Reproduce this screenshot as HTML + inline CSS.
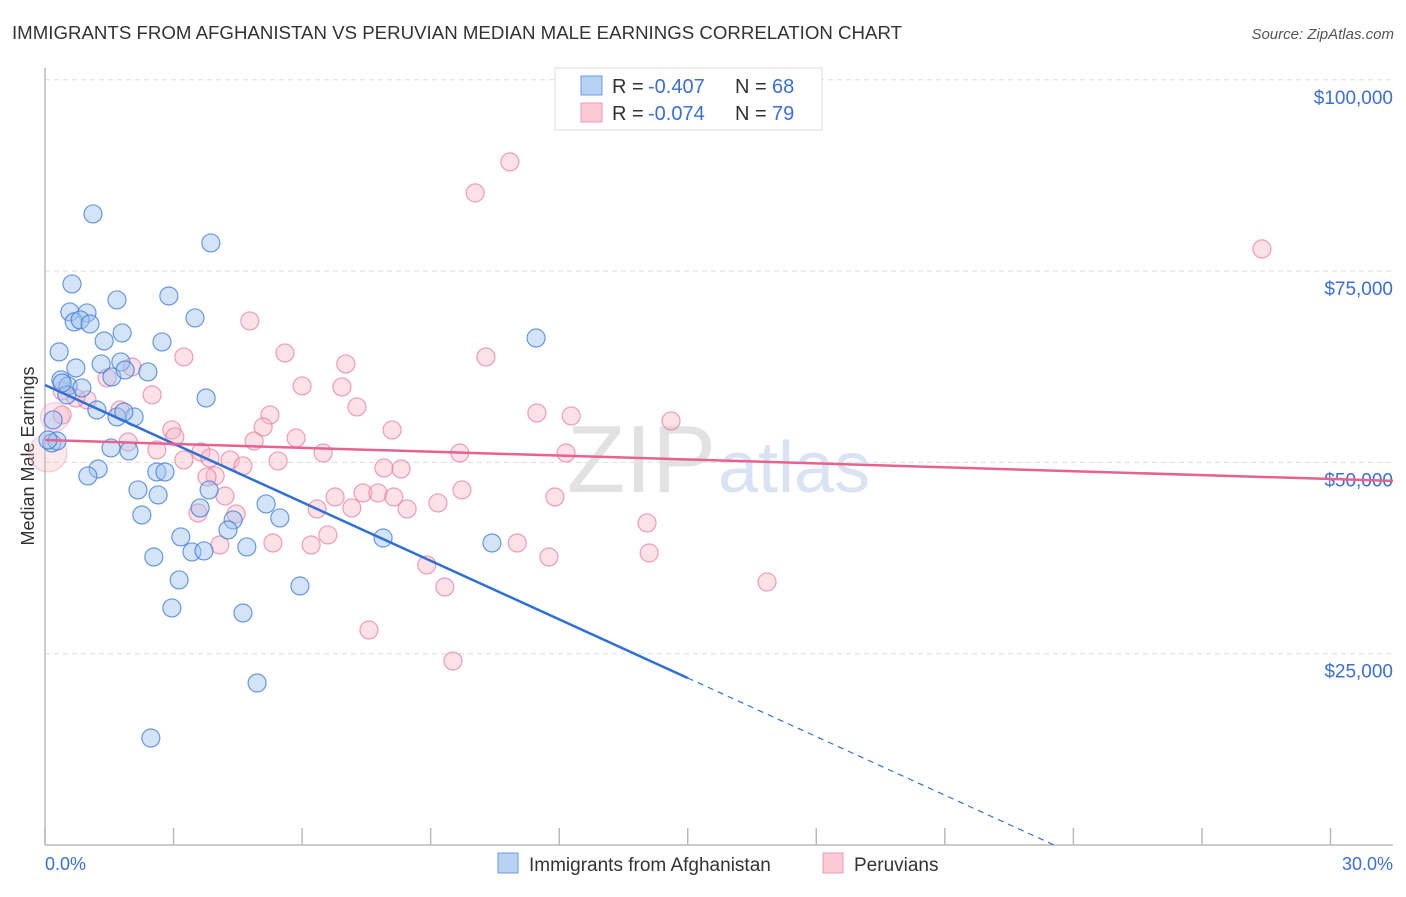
<!DOCTYPE html>
<html><head><meta charset="utf-8"><style>
body{margin:0;background:#fff;font-family:"Liberation Sans",sans-serif;}
svg text{font-family:"Liberation Sans",sans-serif;}
</style></head><body>
<svg id="chart" width="1406" height="892" viewBox="0 0 1406 892" xmlns="http://www.w3.org/2000/svg">
<text x="12" y="39" font-size="18" fill="#333" textLength="890" lengthAdjust="spacingAndGlyphs">IMMIGRANTS FROM AFGHANISTAN VS PERUVIAN MEDIAN MALE EARNINGS CORRELATION CHART</text>
<text x="1394" y="39" font-size="15" fill="#555" font-style="italic" text-anchor="end">Source: ZipAtlas.com</text>
<text x="716" y="492" font-size="96" fill="#e2e2e2" text-anchor="end" font-family="Liberation Serif">ZIP</text>
<text x="718" y="492" font-size="72" fill="#d9e3f3">atlas</text>
<g id="grid"></g>
<line x1="45" y1="68" x2="45" y2="845" stroke="#bbb" stroke-width="1.5"/>
<line x1="45" y1="845" x2="1393" y2="845" stroke="#bbb" stroke-width="1.5"/>
<text x="34" y="456" font-size="18" fill="#333" text-anchor="middle" transform="rotate(-90 34 456)">Median Male Earnings</text>
<text x="45" y="870" font-size="18" fill="#3b6fd4">0.0%</text>
<text x="1393" y="870" font-size="18" fill="#3b6fd4" text-anchor="end">30.0%</text>
<g id="pts"></g>
<g id="lines"></g>
<g>
<rect x="555" y="68" width="267" height="62" fill="#fff" stroke="#ddd"/>
<rect x="581" y="76" width="21" height="19" fill="#b8d2f4" stroke="#6a9be0"/>
<rect x="581" y="103" width="21" height="19" fill="#fbc9d8" stroke="#ee9ab5"/>
<text x="612" y="93" font-size="20" fill="#333">R =</text>
<text x="648" y="93" font-size="20" fill="#3b6fd4">-0.407</text>
<text x="735" y="93" font-size="20" fill="#333">N =</text>
<text x="772" y="93" font-size="20" fill="#3b6fd4">68</text>
<text x="612" y="120" font-size="20" fill="#333">R =</text>
<text x="648" y="120" font-size="20" fill="#3b6fd4">-0.074</text>
<text x="735" y="120" font-size="20" fill="#333">N =</text>
<text x="772" y="120" font-size="20" fill="#3b6fd4">79</text>
</g>
<g>
<rect x="498" y="853" width="20" height="20" fill="#b8d2f4" stroke="#6a9be0"/>
<text x="529" y="871" font-size="19" fill="#333">Immigrants from Afghanistan</text>
<rect x="823" y="853" width="20" height="20" fill="#fbc9d8" stroke="#ee9ab5"/>
<text x="854" y="871" font-size="19" fill="#333">Peruvians</text>
</g>
</svg>
<script>
const yTicks=[25000,50000,75000,100000];
const yTickLabels=["$25,000","$50,000","$75,000","$100,000"];
const xTicks=[0,3,6,9,12,15,18,21,24,27,30];
const blueX=[1.12,3.87,0.63,2.89,1.68,0.58,0.98,3.50,0.68,0.82,1.05,1.80,1.38,2.73,0.33,11.46,1.31,1.77,2.40,0.72,1.56,0.37,0.54,0.86,0.51,3.76,1.21,2.08,1.68,0.19,0.16,0.28,1.54,1.96,0.07,1.24,2.61,1.00,2.80,2.17,2.64,3.83,5.16,2.26,5.48,4.39,3.62,4.27,3.17,7.89,10.43,4.71,3.43,3.71,2.54,3.13,5.95,2.96,4.62,4.95,2.47,0.40,1.87,1.84];
const blueY=[82470,78680,73320,71750,71230,69660,69530,68880,68360,68620,68090,66920,65870,65740,64440,66260,62870,63130,61820,62340,61170,60780,59990,59730,58820,58420,56850,55940,55940,55550,52540,52800,51890,51500,52930,49140,48750,48230,48750,46400,45750,46400,44570,43130,42740,42480,44050,41170,40260,40120,39470,38950,38300,38430,37640,34640,33850,30980,30320,21170,13980,60380,62080,56590];
const pinkX=[10.85,10.04,28.40,4.78,5.60,3.24,10.29,7.02,1.45,2.03,2.50,0.40,0.98,6.00,6.93,7.28,11.48,12.28,14.61,1.75,5.25,0.40,0.23,2.96,3.03,5.86,4.88,8.10,1.94,2.61,3.64,0.07,4.32,5.44,3.24,3.85,4.62,6.49,9.68,12.16,7.91,8.31,3.97,9.73,6.77,7.42,7.77,8.14,7.16,8.45,9.17,11.90,4.20,6.35,3.57,4.46,5.32,6.21,6.60,4.08,11.02,11.76,8.91,14.05,14.10,9.33,16.85,7.56,9.52,0.72,3.78,5.09];
const pinkY=[89270,85220,77900,68490,64300,63780,63780,62870,61040,62470,58820,59340,58160,59990,59860,57250,56460,56070,55420,56850,56200,56200,55940,54240,53330,53190,52800,54240,52670,51630,51370,51230,50320,50190,50320,50580,49540,51230,51230,51230,49270,49140,48230,46400,45480,46010,46010,45480,44050,43920,44700,45480,45610,43920,43390,43260,39470,39210,40520,39210,39470,37640,36600,42090,38160,33720,34370,28100,24050,58420,48100,54630];
const pinkSize=[1,1,1,1,1,1,1,1,1,1,1,1,1,1,1,1,1,1,1,1,1,1,1.6,1,1,1,1,1,1,1,1,2.1,1,1,1,1,1,1,1,1,1,1,1,1,1,1,1,1,1,1,1,1,1,1,1,1,1,1,1,1,1,1,1,1,1,1,1,1,1,1,1,1];
const blueTrend=[60120,-2553];
const pinkTrend=[52930,-170];
const NS="http://www.w3.org/2000/svg";
const sx=v=>45+v*42.85;
const sy=v=>845-v/25000*191.3;
function mk(t,a,p){const e=document.createElementNS(NS,t);for(const k in a)e.setAttribute(k,a[k]);p.appendChild(e);return e;}
const grid=document.getElementById('grid');
yTicks.forEach((t,i)=>{
  const l=mk('line',{x1:45,x2:1393,y1:sy(t),y2:sy(t),stroke:'#ddd','stroke-dasharray':'5,4'},grid);
  
  
  const tx=mk('text',{x:1393,y:sy(t)+24,'font-size':19,fill:'#3b6fd4','text-anchor':'end'},grid);
  tx.textContent=yTickLabels[i];
  
  
});
xTicks.forEach(t=>{
  const l=mk('line',{x1:sx(t),x2:sx(t),y1:828,y2:845,stroke:'#bbb','stroke-width':1.5},grid);
  
  
});
const pts=document.getElementById('pts');
pinkX.forEach((x,i)=>{
  const big=pinkSize[i]>1;
  const c=mk('circle',{cx:sx(x),cy:sy(pinkY[i]),r:9*pinkSize[i],fill:big?'rgba(248,180,200,0.3)':'rgba(248,180,200,0.4)',stroke:big?'rgba(232,120,155,0.35)':'rgba(232,120,155,0.7)','stroke-width':1.2},pts);
  
  
});
blueX.forEach((x,i)=>{
  const c=mk('circle',{cx:sx(x),cy:sy(blueY[i]),r:9,fill:'rgba(160,196,240,0.45)',stroke:'rgba(60,120,215,0.75)','stroke-width':1.2},pts);
  
  
});
const lines=document.getElementById('lines');
const bf=x=>blueTrend[0]+blueTrend[1]*x;
const pf=x=>pinkTrend[0]+pinkTrend[1]*x;
const bzero=-blueTrend[0]/blueTrend[1];
let l1=mk('line',{x1:sx(0),y1:sy(bf(0)),x2:sx(15),y2:sy(bf(15)),stroke:'#2f6fd6','stroke-width':2.5},lines);


let l2=mk('line',{x1:sx(15),y1:sy(bf(15)),x2:sx(bzero),y2:sy(0),stroke:'#2f6fd6','stroke-width':1.2,'stroke-dasharray':'6,5'},lines);


let l3=mk('line',{x1:sx(0),y1:sy(pf(0)),x2:1393,y2:sy(pf((1393-45)/42.85)),stroke:'#e8628f','stroke-width':2.5},lines);


</script>
</body></html>
